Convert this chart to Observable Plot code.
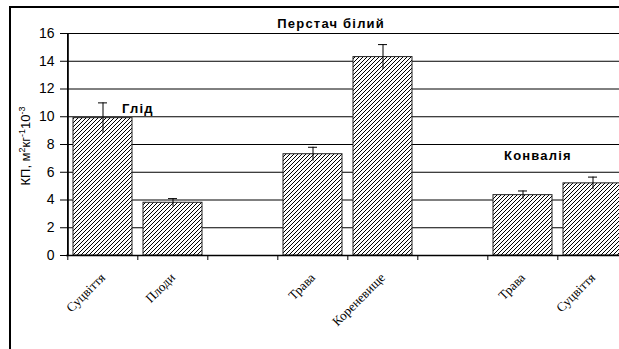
<!DOCTYPE html>
<html>
<head>
<meta charset="utf-8">
<script src="https://cdn.jsdelivr.net/npm/d3@7"></script>
<script src="https://cdn.jsdelivr.net/npm/@observablehq/plot@0.6"></script>
<style>
  html, body { margin: 0; padding: 0; background: #fff; overflow: hidden; width: 619px; height: 349px; }
  #wrap { position: relative; width: 619px; height: 349px; overflow: hidden; }
  #frame { position: absolute; left: 9px; top: 6px; width: 700px; height: 400px; border: 2px solid #000; box-sizing: border-box; }
  #chart { position: absolute; left: 0; top: 0; width: 640px; }
  #chart svg { max-width: none !important; }
  #chart svg g[font-weight="bold"] text { letter-spacing: 1.2px; }
</style>
</head>
<body>
<div id="wrap"><div id="frame"></div><div id="chart"></div></div>
<script>
// Categories (slots), including two empty separators
const keys = ["g1", "g2", "s1", "p1", "p2", "s2", "k1", "k2"];
const labels = ["Суцвіття", "Плоди", "", "Трава", "Кореневище", "", "Трава", "Суцвіття"];
const values = [9.9, 3.8, 0, 7.3, 14.3, 0, 4.35, 5.2];
const errors = [1.1, 0.3, 0, 0.5, 0.9, 0, 0.3, 0.45];
const yTicks = [0, 2, 4, 6, 8, 10, 12, 14, 16];
const groupNames = ["Глід", "Перстач білий", "Конвалія"];
const groupKeys = ["g1", "p2", "k1"];
const groupY = [10.6, 16.7, 7.2];

const data = keys.map((k, i) => ({key: k, label: labels[i], value: values[i], err: errors[i]}));
const bars = data.filter(d => d.value > 0);
const groups = groupNames.map((n, i) => ({name: n, key: groupKeys[i], y: groupY[i]}));

const W = 630, ML = 66, MR = 1;
const step = (W - ML - MR) / keys.length;
const boldFont = {fontSize: 13, fontWeight: "bold", fontFamily: "Liberation Sans, Arial, sans-serif"};

const chart = Plot.plot({
  width: W,
  height: 349,
  marginLeft: ML,
  marginRight: MR,
  marginTop: 33,
  marginBottom: 94,
  style: {background: "transparent", overflow: "visible", maxWidth: "none"},
  x: {domain: keys, paddingInner: 0.16, paddingOuter: 0.08, label: null},
  y: {domain: [0, 16], label: null},
  marks: [
    Plot.ruleY(yTicks.filter(t => t > 0), {stroke: "#000", strokeWidth: 1}),
    Plot.barY(bars, {x: "key", y: "value", fill: "url(#hatch)", stroke: "#222", strokeWidth: 1}),
    Plot.ruleX(bars, {x: "key", y1: d => d.value - d.err, y2: d => d.value + d.err, stroke: "#000", strokeWidth: 1}),
    Plot.tickY(bars, {x: "key", y: d => d.value + d.err, stroke: "#000", strokeWidth: 1, insetLeft: 25, insetRight: 25}),
    Plot.ruleY([0], {stroke: "#000", strokeWidth: 1.5}),
    Plot.ruleX([0, 16], {x: () => keys[0], y1: 0, y2: 16, dx: -step / 2, stroke: "#000", strokeWidth: 1.5}),
    Plot.ruleX(keys, {x: d => d, y1: 0, y2: 0, insetBottom: -5, dx: -step / 2, stroke: "#000"}),
    Plot.axisY({ticks: yTicks, tickSize: 6, tickPadding: 6, fontSize: 14, fontFamily: "Liberation Sans, Arial, sans-serif", label: null, stroke: "#000"}),
    Plot.axisX({tickSize: 0, tickRotate: -45, tickPadding: 20, tickFormat: k => labels[keys.indexOf(k)], fontSize: 13, fontFamily: "Liberation Serif, Times New Roman, serif", label: null}),
    Plot.text(groups.slice(0, 1), {x: "key", y: "y", text: "name", textAnchor: "start", dx: 19, ...boldFont}),
    Plot.text(groups.slice(1, 2), {x: "key", y: "y", text: "name", textAnchor: "end", dx: 2, ...boldFont}),
    Plot.text(groups.slice(2, 3), {x: "key", y: "y", text: "name", textAnchor: "start", dx: -19, ...boldFont})
  ]
});
chart.style.maxWidth = "none";

const svg = d3.select(chart);
const defs = svg.insert("defs", ":first-child");
const pat = defs.append("pattern").attr("id", "hatch").attr("patternUnits", "userSpaceOnUse")
  .attr("width", 4).attr("height", 4);
pat.append("rect").attr("width", 4).attr("height", 4).attr("fill", "#fff");
pat.append("path").attr("d", "M-1,1 l2,-2 M0,4 l4,-4 M3,5 l2,-2").attr("stroke", "#000").attr("stroke-width", 1);

// Y axis title with superscripts
const t = svg.append("text")
  .attr("transform", "translate(30,146) rotate(-90)")
  .attr("text-anchor", "middle")
  .attr("font-family", "Liberation Sans, Arial, sans-serif")
  .attr("font-size", 13)
  .attr("fill", "#000");
t.append("tspan").text("КП, м");
t.append("tspan").attr("baseline-shift", "super").attr("font-size", 9).text("2");
t.append("tspan").text("кг");
t.append("tspan").attr("baseline-shift", "super").attr("font-size", 9).text("-1");
t.append("tspan").text("10");
t.append("tspan").attr("baseline-shift", "super").attr("font-size", 9).text("-3");

document.getElementById("chart").appendChild(chart);
</script>
</body>
</html>
